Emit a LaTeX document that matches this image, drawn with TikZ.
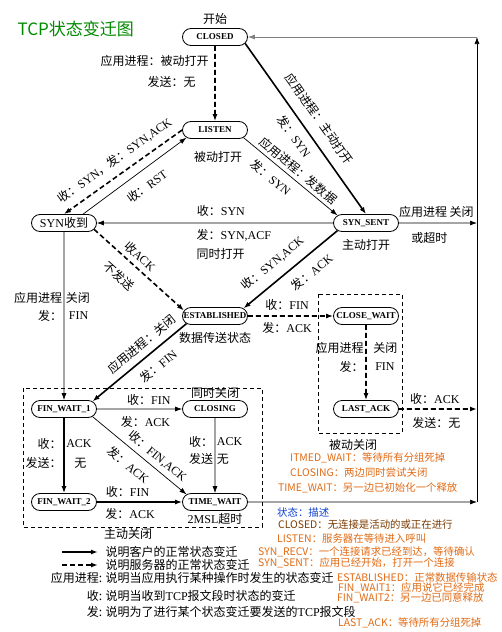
\documentclass[tikz,border=0pt]{standalone}
\usepackage{fontspec}
\setmainfont{Liberation Serif}
\newfontfamily\cjk{Noto Sans CJK SC}
\usetikzlibrary{positioning, arrows.meta, shapes.misc}

\definecolor{titlegreen}{HTML}{008A00}
\definecolor{noteorange}{HTML}{E06A14}
\definecolor{notebrown}{HTML}{7A3A00}
\definecolor{noteblue}{HTML}{1040D0}

\newcommand{\zh}[1]{{\cjk #1}}
\newcommand{\lblfont}{\fontsize{12}{14}\selectfont}
\newcommand{\statefont}{\fontsize{9}{10}\selectfont\bfseries}

\tikzset{
  state/.style={draw, rounded rectangle, minimum width=67pt, minimum height=17pt,
    inner xsep=1pt, inner ysep=1pt, line width=0.8pt, font=\statefont},
  lbl/.style={font=\lblfont, inner sep=1.5pt},
  note/.style={font=\cjk\fontsize{10.4}{12}\selectfont, inner sep=0pt, anchor=west, text=noteorange},
  cli/.style={line width=1.6pt, -{Latex[length=7pt,width=5pt]}},
  srv/.style={cli, dash pattern=on 5pt off 3pt},
  norm/.style={line width=0.7pt, -{Latex[length=7pt,width=5pt]}},
  zone/.style={line width=0.6pt, dash pattern=on 4pt off 3pt},
}

\begin{document}
\begin{tikzpicture}[x=1pt, y=-1pt, node distance=93pt and 151pt, on grid]
  \useasboundingbox (0,0) rectangle (501,632);

  \node[anchor=west, text=titlegreen, font=\cjk\fontsize{17}{20}\selectfont] (title) at (14,29) {TCP状态变迁图};

  % states
  \node[state] (closed) at (215,37) {CLOSED};
  \node[state] (listen) [below=of closed] {LISTEN};
  \node[state, font=\lblfont] (synrcvd) [below left=of listen] {SYN\zh{收到}};
  \node[state] (synsent) [below right=of listen] {SYN\_SENT};
  \node[state] (established) [below left=of synsent] {ESTABLISHED};
  \node[state] (closewait) [right=of established] {CLOSE\_WAIT};
  \node[state] (lastack) [below=of closewait] {LAST\_ACK};
  \node[state] (closing) [below=of established] {CLOSING};
  \node[state] (finwait1) [left=of closing] {FIN\_WAIT\_1};
  \node[state] (finwait2) [below=of finwait1] {FIN\_WAIT\_2};
  \node[state] (timewait) [below=of closing] {TIME\_WAIT};
  \coordinate (ret) at (477,37);

  % notes on states
  \node[lbl] (start) [above=18pt of closed] {\zh{开始}};
  \node[lbl] (passiveopen) [below=27pt of listen, xshift=3pt] {\zh{被动打开}};
  \node[lbl] (activeopen) [below=22pt of synsent] {\zh{主动打开}};
  \node[lbl] (datastate) [below=22pt of established] {\zh{数据传送状态}};
  \node[lbl] (simclose) [above=16pt of closing] {\zh{同时关闭}};
  \node[lbl] (msl) [below=17pt of timewait] {2MSL\zh{超时}};

  % close zones
  \draw[zone] (23,388) rectangle (262,527);
  \draw[zone] (318,294) rectangle (402,433);
  \node[lbl] (activeclose) at (128,534) {\zh{主动关闭}};
  \node[lbl] (passiveclose) at (353,445) {\zh{被动关闭}};

  % transitions
  \draw[srv] (closed) -- node[lbl, left=4pt, pos=.2] {\zh{应用进程：被动打开}}
    node[lbl, left=17pt, pos=.48] {\zh{发送：无}} (listen);
  \draw[cli] (closed.-12) -- node[lbl, sloped, above=9pt] {\zh{应用进程：主动打开}}
    node[lbl, sloped, below=6pt] {\zh{发：}SYN} (synsent.north);
  \draw[norm] (listen.-15) -- node[lbl, sloped, above=2pt, pos=.52] {\zh{应用进程：发数据}}
    node[lbl, sloped, below=6pt, pos=.38] {\zh{发：}SYN} (synsent.165);
  \draw[norm] (synrcvd.25) -- node[lbl, sloped, below=8pt, pos=.53] {\zh{收：}RST} (listen.195);
  \draw[srv] (listen.west) -- node[lbl, sloped, above=6pt] {\zh{收：}SYN\zh{，发：}SYN,ACK} (synrcvd.north);
  \draw[norm] (synsent) -- node[lbl, above=5pt, pos=.475] {\zh{收：}SYN}
    node[lbl, below=5pt, pos=.42, align=left] {\zh{发：}SYN,ACF\\[5pt]\zh{同时打开}} (synrcvd);
  \draw[srv] (synrcvd.-12) -- node[lbl, sloped, above=3pt, pos=.43] {\zh{收}ACK}
    node[lbl, sloped, below=10pt, pos=.41] {\zh{不发送}} (established.170);
  \draw[cli] (synsent.195) -- node[lbl, sloped, above=8pt, pos=.58] {\zh{收：}SYN,ACK}
    node[lbl, sloped, below=8pt, pos=.38] {\zh{发：}ACK} (established.15);
  \draw[norm] (synsent) -- node[lbl, above=4pt, pos=.48] {\zh{应用进程 关闭}}
    node[lbl, below=8pt, pos=.39] {\zh{或超时}} (synsent -| ret);
  \draw[srv] (established) -- node[lbl, above=3pt, pos=.46] {\zh{收：}FIN}
    node[lbl, below=4pt, pos=.46] {\zh{发：}ACK} (closewait);
  \draw[srv] (closewait) -- node[lbl, left, pos=.31] {\zh{应用进程}}
    node[lbl, right=5pt, pos=.31] {\zh{关闭}}
    node[lbl, left, pos=.56] {\zh{发：}}
    node[lbl, right=7pt, pos=.56] {FIN} (lastack);
  \draw[srv] (lastack) -- node[lbl, above=2pt, pos=.46] {\zh{收：}ACK}
    node[lbl, below=6pt, pos=.48] {\zh{发送：无}} (lastack -| ret);
  \draw[cli] (established.195) -- node[lbl, sloped, above=5pt, pos=.39] {\zh{应用进程：关闭}}
    node[lbl, sloped, below=7pt, pos=.4] {\zh{发：}FIN} (finwait1.15);
  \draw[norm] (synrcvd) -- node[lbl, left, pos=.39] {\zh{应用进程}}
    node[lbl, right, pos=.39] {\zh{关闭}}
    node[lbl, left, pos=.5] {\zh{发：}}
    node[lbl, right=3pt, pos=.5] {FIN} (finwait1);
  \draw[norm] (finwait1) -- node[lbl, above=2pt, pos=.61] {\zh{收：}FIN}
    node[lbl, below=6pt, pos=.57] {\zh{发：}ACK} (closing);
  \draw[norm] (finwait1.-15) -- node[lbl, sloped, above=3pt, pos=.62] {\zh{收：}FIN,ACK}
    node[lbl, sloped, below=7pt, pos=.48] {\zh{发：}ACK} (timewait.165);
  \draw[cli] (finwait1) -- node[lbl, left, pos=.34] {\zh{收：}}
    node[lbl, right, pos=.34] {ACK}
    node[lbl, left, pos=.6] {\zh{发送：}}
    node[lbl, right=8pt, pos=.6] {\zh{无}} (finwait2);
  \draw[norm] (closing) -- node[lbl, left, pos=.32] {\zh{收：}}
    node[lbl, right, pos=.32] {ACK}
    node[lbl, left, pos=.55] {\zh{发送}}
    node[lbl, right, pos=.55] {\zh{无}} (timewait);
  \draw[cli] (finwait2) -- node[lbl, above=2pt, pos=.36] {\zh{收：}FIN}
    node[lbl, below=4pt, pos=.39] {\zh{发：}ACK} (timewait);
  \draw[norm] (timewait) -- (timewait -| ret);
  \draw[norm] (timewait -| ret) -- (ret);
  \draw[norm, gray] (ret) -- (closed.east);

  % legend
  \node[lbl, anchor=west] (lgcli) at (104,552) {\zh{说明客户的正常状态变迁}};
  \node[lbl, anchor=west] (lgsrv) at (104,565) {\zh{说明服务器的正常状态变迁}};
  \draw[cli] ([xshift=-42pt]lgcli.west) -- ([xshift=-6pt]lgcli.west);
  \draw[srv] ([xshift=-42pt]lgsrv.west) -- ([xshift=-6pt]lgsrv.west);
  \node[lbl, anchor=east] (lgapp) at (104,578) {\zh{应用进程:}};
  \node[lbl, anchor=west] (lgappd) at (104,578) {\zh{说明当应用执行某种操作时发生的状态变迁}};
  \node[lbl, anchor=east] (lgrcv) at (104,596) {\zh{收:}};
  \node[lbl, anchor=west] (lgrcvd) at (104,596) {\zh{说明当收到}TCP\zh{报文段时状态的变迁}};
  \node[lbl, anchor=east] (lgsnd) at (104,612) {\zh{发:}};
  \node[lbl, anchor=west] (lgsndd) at (104,612) {\zh{说明为了进行某个状态变迁要发送的}TCP\zh{报文段}};

  % state descriptions
  \node[note] (ntimed) at (290,458) {ITMED\_WAIT：等待所有分组死掉};
  \node[note] (nclosing) at (290,473) {CLOSING：两边同时尝试关闭};
  \node[note] (ntimewait) at (278,488) {TIME\_WAIT：另一边已初始化一个释放};
  \node[note, text=noteblue] (nhead) at (277,513) {状态：描述};
  \node[note, text=notebrown] (nclosed) at (278,525) {CLOSED：无连接是活动的或正在进行};
  \node[note] (nlisten) at (277,539) {LISTEN：服务器在等待进入呼叫};
  \node[note] (nsynrecv) at (258,552) {SYN\_RECV：一个连接请求已经到达，等待确认};
  \node[note] (nsynsent) at (258,563) {SYN\_SENT：应用已经开始，打开一个连接};
  \node[note] (nestab) at (337,578) {ESTABLISHED：正常数据传输状态};
  \node[note] (nfin1) at (338,588) {FIN\_WAIT1：应用说它已经完成};
  \node[note] (nfin2) at (337,598) {FIN\_WAIT2：另一边已同意释放};
  \node[note] (nlastack) at (338,623) {LAST\_ACK：等待所有分组死掉};
\end{tikzpicture}
\end{document}
